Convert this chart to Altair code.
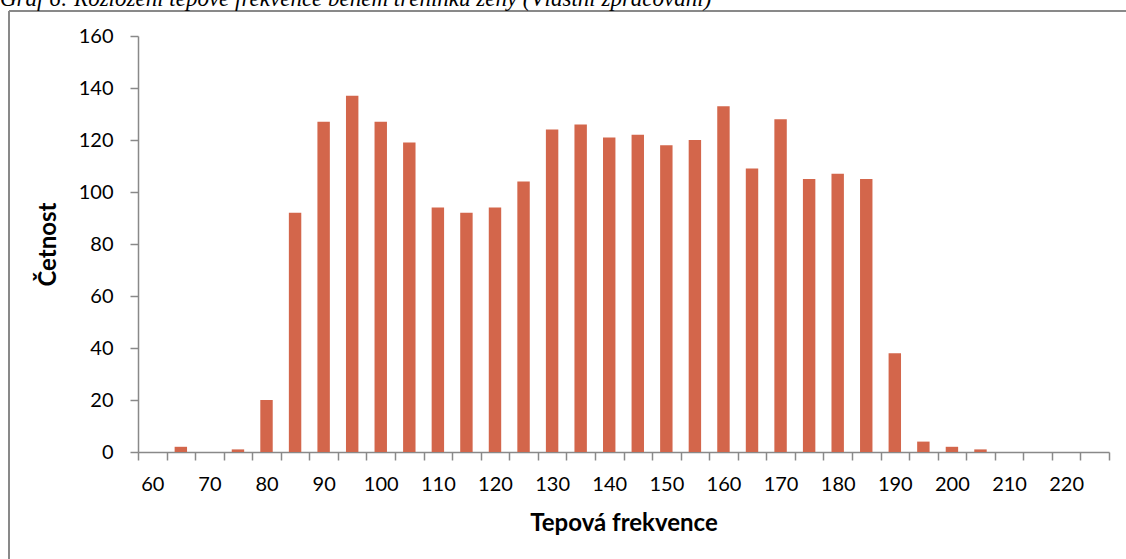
import altair as alt
import pandas as pd

# Heart-rate classes (bpm) and their counts
hr_classes = [60, 65, 70, 75, 80, 85, 90, 95, 100, 105, 110, 115, 120, 125, 130, 135, 140,
              145, 150, 155, 160, 165, 170, 175, 180, 185, 190, 195, 200, 205, 210, 215,
              220, 225]
counts = [0, 2, 0, 1, 20, 92, 127, 137, 127, 119, 94, 92, 94, 104, 124, 126, 121,
          122, 118, 120, 133, 109, 128, 105, 107, 105, 38, 4, 2, 1, 0, 0, 0, 0]
y_ticks = [0, 20, 40, 60, 80, 100, 120, 140, 160]

caption = "Graf 6: Rozložení tepové frekvence během tréninku ženy (Vlastní zpracování)"

df = pd.DataFrame({"tf": hr_classes, "n": counts})

GRAY = "#898989"
FONT = "Lato"

bars = alt.Chart(df).mark_bar(color="#D3664B", width=alt.RelativeBandSize(0.435)).encode(
    x=alt.X(
        "tf:O",
        sort=hr_classes,
        scale=alt.Scale(paddingInner=0, paddingOuter=0),
        axis=alt.Axis(
            title="Tepová frekvence",
            labelAngle=0,
            labelExpr="datum.value % 10 == 0 ? datum.label : ''",
            tickBand="extent",
            tickSize=8,
            labelPadding=14,
            titleY=71,
            titleBaseline="middle",
        ),
    ),
    y=alt.Y(
        "n:Q",
        scale=alt.Scale(domain=[0, 160], nice=False),
        axis=alt.Axis(
            title="Četnost",
            values=y_ticks,
            grid=False,
            tickSize=8,
            labelPadding=17,
            titleX=-90,
            titleY=208,
            titleAngle=-90,
            titleAlign="center",
            titleBaseline="middle",
        ),
    ),
)

frame_df = pd.DataFrame({"k": [0]})
frame_top = alt.Chart(frame_df).mark_rule(color=GRAY, strokeWidth=2).encode(
    x=alt.value(-129), x2=alt.value(1200), y=alt.value(-25)
)
frame_left = alt.Chart(frame_df).mark_rule(color=GRAY, strokeWidth=2).encode(
    x=alt.value(-129), y=alt.value(-25), y2=alt.value(700)
)
cap = alt.Chart(pd.DataFrame({"t": [caption]})).mark_text(
    font="Liberation Serif", fontStyle="italic", fontSize=23, align="left",
    baseline="alphabetic", color="black"
).encode(x=alt.value(-138), y=alt.value(-30), text="t:N")

chart = alt.layer(bars, frame_top, frame_left, cap).properties(
    width=971,
    height=416,
    autosize=alt.AutoSizeParams(type="none"),
    padding={"left": 138, "top": 36, "right": 17, "bottom": 107},
).configure_view(stroke=None).configure_axis(
    domainColor=GRAY,
    tickColor=GRAY,
    domainWidth=1.5,
    tickWidth=1.5,
    labelFont=FONT,
    labelFontSize=20,
    labelColor="black",
    titleFont=FONT,
    titleFontSize=24,
    titleFontWeight="bold",
    titleColor="black",
)

chart.save("out.html", embed_options={"renderer": "svg", "actions": False})
